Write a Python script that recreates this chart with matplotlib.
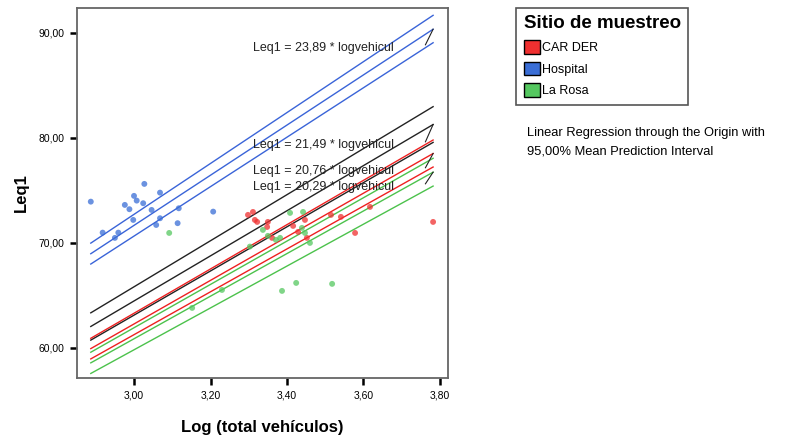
import numpy as np
import matplotlib.pyplot as plt
from matplotlib.patches import Patch

plt.rcParams['font.family'] = ['Liberation Sans', 'DejaVu Sans']

# scatter data: Log(total vehiculos) vs Leq1, per sampling site
hosp_x = [2.887, 3.027, 3.000, 3.007, 2.976, 2.988, 3.024, 3.068, 3.046, 3.117,
          3.207, 3.068, 2.998, 3.114, 3.058, 2.918, 2.959, 2.950]
hosp_y = [73.93, 75.62, 74.48, 74.03, 73.62, 73.21, 73.78, 74.79, 73.14, 73.30,
          72.98, 72.35, 72.19, 71.88, 71.71, 70.98, 70.98, 70.48]

carder_x = [3.298, 3.311, 3.322, 3.316, 3.350, 3.348, 3.361, 3.416, 3.429, 3.447,
            3.452, 3.515, 3.541, 3.578, 3.617, 3.782]
carder_y = [72.67, 72.95, 72.00, 72.19, 72.00, 71.52, 70.48, 71.62, 71.05, 72.19,
            70.48, 72.67, 72.48, 70.95, 73.43, 72.00]

rosa_x = [3.092, 3.152, 3.230, 3.337, 3.350, 3.371, 3.408, 3.442, 3.439, 3.447,
          3.460, 3.387, 3.424, 3.518, 3.303, 3.382]
rosa_y = [70.95, 63.81, 65.52, 71.24, 70.67, 70.29, 72.86, 72.95, 71.43, 70.95,
          70.00, 65.43, 66.19, 66.10, 69.65, 70.48]

# slopes of the lines through the origin: upper band, fit, lower band
hosp_slopes = [24.24, 23.89, 23.55]
total_slopes = [21.94, 21.49, 21.04]
carder_slopes = [21.10, 20.76, 20.42]
rosa_slopes = [20.64, 20.29, 19.94]

eq_labels = ["Leq1 = 23,89 * logvehicul", "Leq1 = 21,49 * logvehicul",
             "Leq1 = 20,76 * logvehicul", "Leq1 = 20,29 * logvehicul"]
x_ticks = [3.0, 3.2, 3.4, 3.6, 3.8]
x_ticklabels = ["3,00", "3,20", "3,40", "3,60", "3,80"]
y_ticks = [60, 70, 80, 90]
y_ticklabels = ["60,00", "70,00", "80,00", "90,00"]

c_red = "#f03030"
c_blue = "#3a6ed6"
c_green = "#55c860"

fig = plt.figure(figsize=(7.9, 4.41), dpi=100)
ax = fig.add_axes([0.0975, 0.143, 0.4696, 0.839])

x0 = min(hosp_x + carder_x + rosa_x)
x1 = max(hosp_x + carder_x + rosa_x)
xs = np.array([x0, x1])

for slopes, col in [(total_slopes, "#222222"), (rosa_slopes, "#4cc24c"),
                    (carder_slopes, "#ee2020"), (hosp_slopes, "#3a64d8")]:
    for s in slopes:
        ax.plot(xs, s * xs, color=col, lw=1.0, zorder=2)

ax.scatter(hosp_x, hosp_y, s=18, color=c_blue, alpha=0.75, edgecolors="none", zorder=3)
ax.scatter(carder_x, carder_y, s=18, color=c_red, alpha=0.75, edgecolors="none", zorder=3)
ax.scatter(rosa_x, rosa_y, s=18, color=c_green, alpha=0.75, edgecolors="none", zorder=3)

# equation labels with leader lines to the end of each fit line
label_y = [88.57, 79.33, 76.86, 75.33]
fits = [hosp_slopes[1], total_slopes[1], carder_slopes[1], rosa_slopes[1]]
for lab, ly, s in zip(eq_labels, label_y, fits):
    ax.text(3.311, ly, lab, fontsize=9, va="center", ha="left", color="#222222", zorder=4)
    ax.plot([3.762, x1], [ly + 0.3, s * x1], color="#222222", lw=0.8, zorder=4)

ax.set_xlim(2.851, 3.821)
ax.set_ylim(57.14, 92.38)
ax.set_xticks(x_ticks)
ax.set_xticklabels(x_ticklabels, fontsize=7.5)
ax.set_yticks(y_ticks)
ax.set_yticklabels(y_ticklabels, fontsize=7.5)
ax.tick_params(direction="out", length=5, width=1.8, color="black", pad=4)
for sp in ax.spines.values():
    sp.set_color("#666666")
    sp.set_linewidth(1.3)

ax.set_xlabel("Log (total vehículos)", fontsize=12, fontweight="bold", labelpad=14)
ax.set_ylabel("Leq1", fontsize=12, fontweight="bold", labelpad=7)

handles = [Patch(facecolor=c_red, edgecolor="black"),
           Patch(facecolor=c_blue, edgecolor="black"),
           Patch(facecolor=c_green, edgecolor="black")]
leg = fig.legend(handles, ["CAR DER", "Hospital", "La Rosa"], title="Sitio de muestreo",
                 loc="upper left", bbox_to_anchor=(516 / 790, 1 - 8 / 441),
                 borderaxespad=0, fontsize=9,
                 title_fontproperties={"size": 13.5, "weight": "bold"},
                 fancybox=False, edgecolor="#555555", framealpha=1,
                 handlelength=1.3, handleheight=1.3, handletextpad=0.2,
                 labelspacing=0.6, borderpad=0.6, alignment="left")
leg.get_frame().set_linewidth(1.2)

fig.text(527 / 790, 1 - 133 / 441, "Linear Regression through the Origin with",
         fontsize=9.3, va="center")
fig.text(527 / 790, 1 - 152 / 441, "95,00% Mean Prediction Interval",
         fontsize=9.3, va="center")

fig.savefig("out.png", dpi=100)
